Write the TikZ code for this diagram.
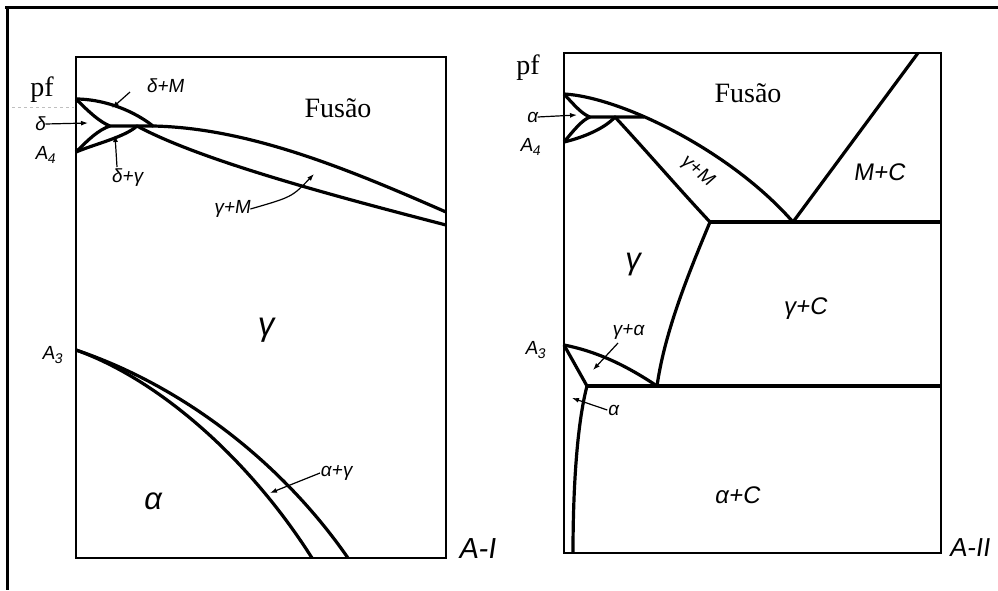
\documentclass[tikz,border=0pt]{standalone}
\usepackage{fontspec}
\setmainfont{Liberation Serif}
\newfontfamily\hand{Liberation Sans}[FakeSlant=0.15]
\newcommand{\lowidx}[1]{\raisebox{-0.35ex}{\fontsize{14}{14}\selectfont #1}}
\usetikzlibrary{arrows.meta}
\tikzset{
  phase/.style={line width=3.2pt, line join=round},
  boxline/.style={line width=1.8pt},
  lbl/.style={inner sep=0pt, font=\hand\fontsize{19}{19}\selectfont},
  midlbl/.style={inner sep=0pt, font=\hand\fontsize{24}{24}\selectfont},
  biglbl/.style={inner sep=0pt, font=\hand\fontsize{33}{33}\selectfont},
  serif/.style={inner sep=0pt, font=\fontsize{28}{28}\selectfont},
  lead/.style={-{Latex[length=7pt, width=5pt]}, line width=1.2pt}
}

\begin{document}
\begin{tikzpicture}[x=1pt, y=-1pt]
  \useasboundingbox (0,0) rectangle (998,590);
  % outer frame
  \draw[line width=3pt] (5,7) -- (998,7);
  \draw[line width=3pt] (7,7) -- (7,590);

  % ---- left diagram (A-I)
  \draw[boxline] (76,57) rectangle (446,558);
  \draw[gray!50, dashed, line width=0.6pt] (12,107) -- (74,107);
  \coordinate (pfL) at (76,99);
  \coordinate (aL4) at (76,152);
  \coordinate (dL) at (110,126);
  \coordinate (gL) at (137,126);
  \coordinate (mL) at (153,126);
  \coordinate (aL3) at (76,350);
  \draw[phase] (pfL) .. controls (100,99) and (130,108) .. (mL)
    .. controls (250,128) and (350,170) .. (446,212);
  \draw[phase] (pfL) .. controls (90,113) and (100,122) .. (dL) -- (mL);
  \draw[phase] (aL4) .. controls (88,140) and (98,130) .. (dL);
  \draw[phase] (aL4) .. controls (95,144) and (125,137) .. (gL)
    .. controls (200,160) and (330,195) .. (446,225);
  \draw[phase] (aL3) .. controls (180,385) and (280,460) .. (348,558);
  \draw[phase] (aL3) .. controls (160,380) and (250,460) .. (312,558);

  \node[serif] (pfLlbl) at (42,90) {pf};
  \node[serif] (fusL) at (338,108) {Fusão};
  \node[lbl] (dmL) at (165,86) {δ+M};
  \coordinate (dmLtip) at (112,108);
  \draw[lead] (130,92) -- (dmLtip);
  \node[lbl] (dlblL) at (40,124) {δ};
  \coordinate (dLtip) at (88,123);
  \draw[lead] (dlblL.east) -- (dLtip);
  \node[lbl] (a4L) at (45,155) {A\lowidx{4}};
  \node[lbl] (dgL) at (127,178) {δ+γ};
  \coordinate (dgLtip) at (115,135);
  \draw[lead] (117,167) -- (dgLtip);
  \node[lbl] (gmL) at (232,209) {γ+M};
  \coordinate (gmLtip) at (314,174);
  \draw[lead] (gmL.east) .. controls (292,197) .. (gmLtip);
  \node[biglbl] (glblL) at (265,330) {γ};
  \node[lbl] (a3L) at (52,355) {A\lowidx{3}};
  \node[lbl] (agL) at (336,473) {α+γ};
  \coordinate (agLtip) at (270,493);
  \draw[lead] (agL.west) -- (agLtip);
  \node[biglbl, font=\hand\fontsize{31}{31}\selectfont] (alblL) at (152,501) {α};
  \node[biglbl, font=\hand\fontsize{29}{29}\selectfont] (AI) at (477,549) {A-I};

  % ---- right diagram (A-II)
  \draw[boxline] (564,53) rectangle (941,553);
  \coordinate (pfR) at (564,94);
  \coordinate (aR4) at (564,142);
  \coordinate (dR) at (590,117);
  \coordinate (gR) at (615,117);
  \coordinate (eR) at (793,222);
  \coordinate (pR) at (710,222);
  \coordinate (aR3) at (564,345);
  \coordinate (qR) at (587,386);
  \coordinate (sR) at (657,386);
  \draw[phase] (pfR) .. controls (620,97) and (730,150) .. (eR);
  \draw[phase] (pfR) .. controls (575,106) and (582,114) .. (dR) -- (644,117);
  \draw[phase] (aR4) .. controls (574,130) and (582,120) .. (dR);
  \draw[phase] (aR4) .. controls (585,137) and (605,128) .. (gR)
    .. controls (650,155) and (680,190) .. (pR);
  \draw[phase] (pR) -- (941,222);
  \draw[phase] (eR) -- (918,53);
  \draw[phase] (pR) .. controls (690,270) and (665,330) .. (sR);
  \draw[phase] (qR) -- (941,386);
  \draw[phase] (aR3) .. controls (600,352) and (630,368) .. (sR);
  \draw[phase] (aR3) -- (qR) .. controls (578,420) and (573,480) .. (573,553);

  \node[serif] (pfRlbl) at (528,68) {pf};
  \node[lbl] (aR) at (532,117) {α};
  \coordinate (aRtip) at (577,115);
  \draw[lead] (aR.east) -- (aRtip);
  \node[lbl] (a4R) at (530,147) {A\lowidx{4}};
  \node[serif] (fusR) at (748,93) {Fusão};
  \node[lbl, rotate=-40] (gmR) at (697,171) {γ+M};
  \node[midlbl] (mcR) at (879,172) {M+C};
  \node[biglbl, font=\hand\fontsize{31}{31}\selectfont] (glblR) at (632,265) {γ};
  \node[midlbl] (gcR) at (805,309) {γ+C};
  \node[lbl] (a3R) at (535,350) {A\lowidx{3}};
  \node[lbl] (gaR) at (628,332) {γ+α};
  \coordinate (gaRtip) at (593,370);
  \draw[lead] (618,343) -- (gaRtip);
  \node[lbl] (alR) at (613,410) {α};
  \coordinate (alRtip) at (572,398);
  \draw[lead] (alR.west) -- (alRtip);
  \node[midlbl] (acR) at (737,495) {α+C};
  \node[biglbl, font=\hand\fontsize{26}{26}\selectfont, anchor=west] (AII) at (949,548) {A-II};
\end{tikzpicture}
\end{document}
